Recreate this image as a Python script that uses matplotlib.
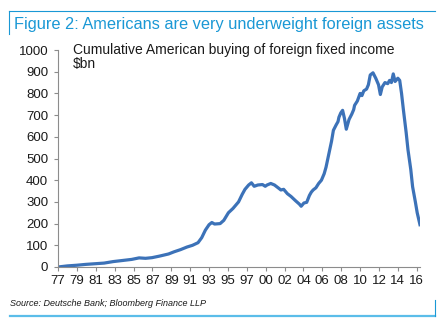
import matplotlib.pyplot as plt
from matplotlib.lines import Line2D

plt.rcParams['font.family'] = ['Liberation Sans', 'DejaVu Sans']

# cumulative buying of foreign fixed income, $bn (decimal year, value)
years = [1977.0, 1978.0, 1979.0, 1980.0, 1981.0, 1982.0, 1983.0, 1984.0,
         1985.0, 1985.8, 1986.5, 1987.2, 1988.0, 1989.0, 1989.6, 1990.3,
         1991.0, 1991.6, 1992.2, 1992.6, 1993.0, 1993.4, 1993.7, 1994.0,
         1994.6, 1995.0, 1995.5, 1996.0, 1996.3, 1996.6, 1997.0, 1997.3,
         1997.7, 1998.0, 1998.3, 1998.7, 1999.2, 1999.5, 1999.7, 2000.1,
         2000.5, 2000.9, 2001.2, 2001.5, 2001.9, 2002.3, 2002.8, 2003.2,
         2003.4, 2003.7, 2004.0, 2004.3, 2004.5, 2004.7, 2005.0, 2005.3,
         2005.6, 2005.9, 2006.1, 2006.4, 2006.7, 2006.9, 2007.2, 2007.4,
         2007.5, 2007.7, 2007.9, 2008.1, 2008.3, 2008.6, 2008.9, 2009.1,
         2009.2, 2009.5, 2009.8, 2010.0, 2010.2, 2010.5, 2010.7, 2010.9,
         2011.2, 2011.5, 2011.8, 2012.0, 2012.2, 2012.5, 2012.8, 2013.0,
         2013.2, 2013.4, 2013.6, 2013.9, 2014.1, 2014.3, 2014.5, 2014.8,
         2015.0, 2015.3, 2015.5, 2015.8, 2016.0, 2016.3]
buying = [0, 5, 8, 12, 15, 18, 25, 30,
          35, 42, 40, 43, 50, 60, 70, 80,
          92, 100, 112, 135, 170, 195, 205, 198,
          200, 215, 250, 270, 285, 300, 335, 358,
          378, 388, 372, 378, 380, 372, 378, 385,
          378, 365, 355, 358, 338, 325, 305, 290,
          280, 295, 298, 330, 345, 355, 365, 385,
          400, 430, 460, 520, 580, 630, 655, 670,
          690, 710, 722, 685, 635, 680, 705, 725,
          745, 765, 800, 790, 812, 820, 840, 885,
          895, 870, 840, 795, 830, 850, 845, 860,
          850, 890, 855, 870, 860, 800, 725, 620,
          540, 450, 370, 300, 250, 195]

tick_labels = ['77', '79', '81', '83', '85', '87', '89', '91', '93', '95',
               '97', '00', '02', '04', '06', '08', '10', '12', '14', '16']
y_ticks = list(range(0, 1001, 100))

BLUE = '#1a98d5'
LINE = '#3c72b8'
GREY = '#8c8c8c'

fig = plt.figure(figsize=(4.43, 3.27), dpi=100)
ax = fig.add_axes([0.131, 0.1835, 0.817, 0.6635])

ax.plot(years, buying, color=LINE, lw=2.3, solid_joinstyle='round')

ax.set_xlim(1977, 2016.3)
ax.set_ylim(0, 1000)
ax.set_xticks([1977 + i * 2.05 for i in range(len(tick_labels))])
ax.set_xticklabels(tick_labels)
ax.set_yticks(y_ticks)

for side in ['top', 'right']:
    ax.spines[side].set_visible(False)
for side in ['left', 'bottom']:
    ax.spines[side].set_color(GREY)
    ax.spines[side].set_linewidth(0.8)
ax.tick_params(axis='both', colors=GREY, labelcolor='#1a1a1a',
               labelsize=9.5, length=3, width=0.8)
ax.tick_params(axis='y', pad=4)
ax.tick_params(axis='x', pad=3)

fig.text(0.165, 0.834, 'Cumulative American buying of foreign fixed income',
         fontsize=10, color='#1a1a1a', va='baseline')
fig.text(0.165, 0.793, '$bn', fontsize=10, color='#1a1a1a', va='baseline')

# header and frame
fig.text(0.032, 0.911, 'Figure 2: Americans are very underweight foreign assets',
         fontsize=11.8, color=BLUE, va='baseline')
fig.add_artist(Line2D([0.020, 0.982], [0.966, 0.966], color=BLUE, lw=0.8))
fig.add_artist(Line2D([0.021, 0.021], [0.966, 0.896], color=BLUE, lw=0.8))

fig.text(0.023, 0.065, 'Source: Deutsche Bank; Bloomberg Finance LLP',
         fontsize=6.5, style='italic', color='#1a1a1a', va='baseline')
fig.add_artist(Line2D([0.023, 0.982], [0.034, 0.034], color='#5bbde9', lw=1.6))
fig.add_artist(Line2D([0.982, 0.982], [0.034, 0.083], color=BLUE, lw=0.8))

fig.savefig('out.png', dpi=100)
